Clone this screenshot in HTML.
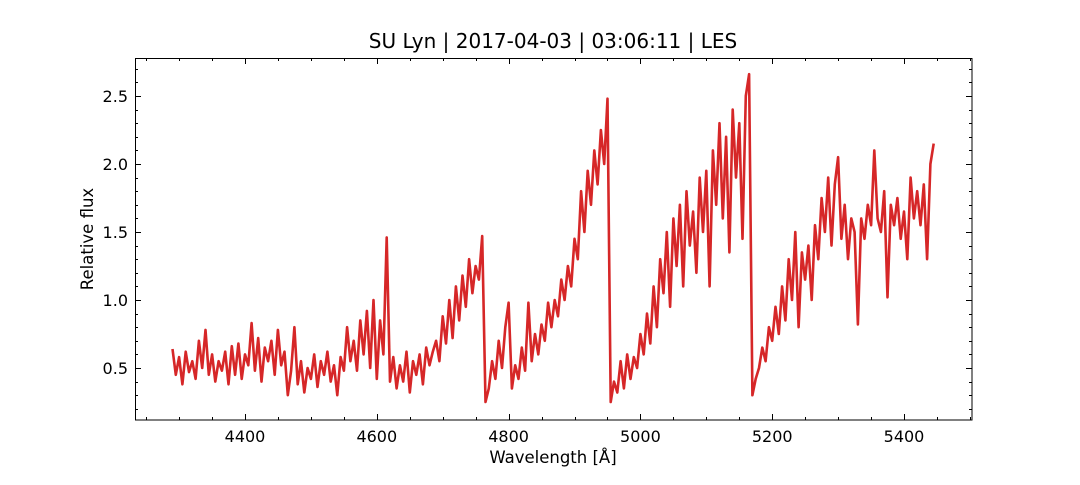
<!DOCTYPE html>
<html><head><meta charset="utf-8"><style>
body{margin:0;background:#fff;}
svg text{font-family:"DejaVu Sans","Liberation Sans",sans-serif;fill:#000;}
</style></head><body>
<svg id="chart" width="1080" height="480" xmlns="http://www.w3.org/2000/svg">
<rect width="1080" height="480" fill="#fff"/>
<text x="553" y="48" font-size="20" text-anchor="middle">SU Lyn | 2017-04-03 | 03:06:11 | LES</text>
<g id="axes"></g>
<path id="series" fill="none" stroke="#d62728" stroke-width="2.6" stroke-linejoin="round"/>
<rect x="135.5" y="58.5" width="836.5" height="361.5" fill="none" stroke="#000" stroke-width="1"/>
<text x="553" y="463" font-size="16.5" text-anchor="middle">Wavelength [Å]</text>
<text transform="translate(93,239) rotate(-90)" font-size="16.5" text-anchor="middle">Relative flux</text>
</svg>
<script>
const wlStart = 4290;
const wlStep = 5;
const flux = [
0.64,0.45,0.58,0.38,0.62,0.47,0.55,0.42,0.70,0.50,
0.78,0.45,0.60,0.40,0.55,0.48,0.62,0.38,0.66,0.45,
0.68,0.42,0.60,0.52,0.83,0.48,0.72,0.40,0.65,0.55,
0.70,0.45,0.78,0.52,0.62,0.30,0.48,0.80,0.38,0.55,
0.32,0.50,0.42,0.60,0.36,0.55,0.45,0.62,0.40,0.52,
0.30,0.58,0.48,0.80,0.55,0.70,0.48,0.85,0.60,0.92,
0.50,1.00,0.42,0.85,0.60,1.46,0.40,0.58,0.35,0.52,
0.40,0.62,0.32,0.55,0.45,0.60,0.38,0.65,0.52,0.62,
0.70,0.55,0.88,0.68,1.00,0.72,1.10,0.85,1.18,0.95,
1.30,1.05,1.25,1.15,1.47,0.25,0.35,0.55,0.42,0.70,
0.50,0.80,0.98,0.35,0.52,0.42,0.65,0.48,0.98,0.55,
0.75,0.60,0.82,0.70,0.98,0.80,1.00,0.88,1.15,1.00,
1.25,1.10,1.45,1.30,1.80,1.50,1.95,1.70,2.10,1.85,
2.25,2.00,2.48,0.25,0.40,0.32,0.55,0.35,0.60,0.42,
0.58,0.50,0.75,0.60,0.90,0.68,1.10,0.80,1.30,1.05,
1.50,0.95,1.60,1.25,1.70,1.10,1.80,1.40,1.65,1.20,
1.90,1.50,1.95,1.10,2.10,1.70,2.30,1.60,2.20,1.35,
2.40,1.90,2.30,1.45,2.50,2.66,0.30,0.42,0.50,0.65,
0.55,0.80,0.70,0.95,0.75,1.10,0.85,1.30,1.00,1.50,
0.80,1.35,1.15,1.40,1.00,1.55,1.30,1.75,1.50,1.90,
1.40,1.85,2.05,1.45,1.70,1.30,1.60,1.50,0.82,1.60,
1.45,1.70,1.55,2.10,1.60,1.50,1.80,1.02,1.70,1.55,
1.75,1.45,1.65,1.30,1.90,1.60,1.80,1.55,1.85,1.30,
2.00,2.15];
const xTicks = [4400,4600,4800,5000,5200,5400];
const yTicks = [0.5,1.0,1.5,2.0,2.5];
const yTickLabels = ["0.5","1.0","1.5","2.0","2.5"];

const X = w => 245 + (w - 4400) * 0.659;
const Y = v => 368 - (v - 0.5) * 136;
const NS = "http://www.w3.org/2000/svg";
const ax = document.getElementById('axes');
function line(x1,y1,x2,y2){const l=document.createElementNS(NS,'line');l.setAttribute('x1',x1);l.setAttribute('y1',y1);l.setAttribute('x2',x2);l.setAttribute('y2',y2);l.setAttribute('stroke','#000');l.setAttribute('stroke-width','1');ax.appendChild(l);return l;}
for(let w=4250; w<=5500; w+=50){
  const x=Math.round(X(w))+0.5; const major = xTicks.includes(w); const len = major?6:3;
  const t=line(x,420,x,420-len);
  
  
  line(x,58,x,58+len);
}
xTicks.forEach(w=>{
  const t=document.createElementNS(NS,'text');
  t.setAttribute('x',X(w));t.setAttribute('y',442);t.setAttribute('font-size','16');t.setAttribute('text-anchor','middle');
  t.textContent=w;
  
  
  ax.appendChild(t);
});
for(let i=2;i<=27;i++){
  const v=i/10; const y=Math.round(Y(v))+0.5; const major = (i%5===0); const len=major?6:3;
  const t=line(135,y,135+len,y);
  
  
  line(972,y,972-len,y);
}
yTicks.forEach((v,i)=>{
  const t=document.createElementNS(NS,'text');
  t.setAttribute('x',128);t.setAttribute('y',Y(v)+6);t.setAttribute('font-size','16');t.setAttribute('text-anchor','end');
  t.textContent=yTickLabels[i];
  
  
  ax.appendChild(t);
});
let d='';
flux.forEach((v,i)=>{ d += (i?'L':'M') + X(wlStart+i*wlStep).toFixed(1)+','+Y(v).toFixed(1); });
document.getElementById('series').setAttribute('d',d);
</script>
</body></html>
